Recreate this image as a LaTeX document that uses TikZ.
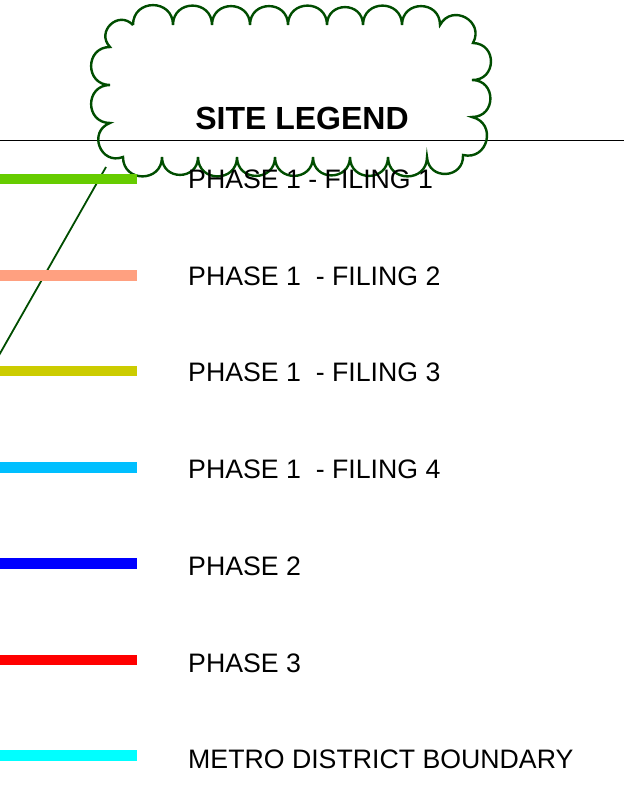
\documentclass[tikz,border=0pt]{standalone}
\usepackage{fontspec}
\setmainfont{Liberation Sans}
\definecolor{cloudgreen}{RGB}{0,77,0}
\definecolor{cgreen}{RGB}{102,204,0}
\definecolor{csalmon}{RGB}{255,160,128}
\definecolor{colive}{RGB}{204,204,0}
\definecolor{csky}{RGB}{0,191,255}
\definecolor{cblue}{RGB}{0,0,255}
\definecolor{cred}{RGB}{255,0,0}
\definecolor{ccyan}{RGB}{0,255,255}
\begin{document}
\begin{tikzpicture}[x=1pt,y=-1pt,
  sc/.style={bend left=90,looseness=1.7},
  cloudline/.style={draw=cloudgreen,line width=2.4pt},
  leader/.style={draw=cloudgreen,line width=1.8pt},
  swatch/.style={line width=10.7pt},
  label/.style={anchor=base west,inner sep=0pt,font=\fontsize{26.7}{30}\selectfont},
  title/.style={anchor=base,inner sep=0pt,font=\fontsize{32}{36}\selectfont\bfseries}]
\useasboundingbox (0,0) rectangle (624,786);
% horizontal rule
\coordinate (hl) at (0,140);
\coordinate (hr) at (624,140);
\draw[line width=0.9pt] (hl) -- (hr);
% revision cloud
\draw[cloudline] (133,25) to[sc] (173,25) to[sc] (212,25) to[sc] (250,25) to[sc] (288,25)
  to[sc] (327,25) to[sc] (363,25) to[sc] (402,25) to[sc] (440,25)
  to[sc] (473,43) to[sc] (472,80) to[sc] (472,117) to[sc] (463,155)
  to[sc] (427,157) to[sc] (388,157) to[sc] (350,157) to[sc] (313,157) to[sc] (275,157)
  to[sc] (237,157) to[sc] (198,157) to[sc] (162,157) to[sc] (123,157)
  to[sc] (110,123) to[sc] (110,85) to[sc] (110,47) to[sc] (133,25);
\node[title] (ttl) at (302,130) {SITE LEGEND};
% leader
\coordinate (ls) at (106,167);
\coordinate (le) at (-2,357);
\draw[leader] (ls) -- (le);
% swatches
\coordinate (a1) at (0,179);   \coordinate (b1) at (137,179);
\coordinate (a2) at (0,275.5); \coordinate (b2) at (137,275.5);
\coordinate (a3) at (0,371);   \coordinate (b3) at (137,371);
\coordinate (a4) at (0,467.5); \coordinate (b4) at (137,467.5);
\coordinate (a5) at (0,563.5); \coordinate (b5) at (137,563.5);
\coordinate (a6) at (0,660);   \coordinate (b6) at (137,660);
\coordinate (a7) at (0,755.5); \coordinate (b7) at (137,755.5);
\draw[swatch,cgreen] (a1) -- (b1);
\draw[swatch,csalmon] (a2) -- (b2);
\draw[swatch,colive] (a3) -- (b3);
\draw[swatch,csky] (a4) -- (b4);
\draw[swatch,cblue] (a5) -- (b5);
\draw[swatch,cred] (a6) -- (b6);
\draw[swatch,ccyan] (a7) -- (b7);
% labels
\node[label] (t1) at (188,188.5) {PHASE 1 - FILING 1};
\node[label] (t2) at (188,285) {PHASE 1\ \ - FILING 2};
\node[label] (t3) at (188,381.5) {PHASE 1\ \ - FILING 3};
\node[label] (t4) at (188,478.5) {PHASE 1\ \ - FILING 4};
\node[label] (t5) at (188,575.5) {PHASE 2};
\node[label] (t6) at (188,672) {PHASE 3};
\node[label] (t7) at (188,768.5) {METRO DISTRICT BOUNDARY};
\end{tikzpicture}
\end{document}
